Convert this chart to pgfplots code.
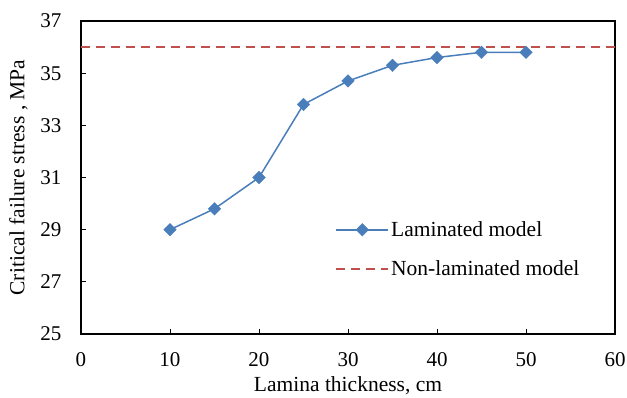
\documentclass[border=0pt]{standalone}
\usepackage{pgfplots}
\pgfplotsset{compat=1.18}
\usepackage{fontspec}
\setmainfont{Liberation Serif}
\definecolor{exblue}{RGB}{74,126,187}
\definecolor{exred}{RGB}{192,80,77}
\begin{document}
\begin{tikzpicture}
\useasboundingbox (-81pt,-64pt) rectangle (546pt,334pt);
\begin{axis}[
  at={(0,0)}, anchor=south west,
  scale only axis, width=534pt, height=313pt,
  xmin=0, xmax=60, ymin=25, ymax=37,
  xtick={0,10,...,60}, ytick={25,27,...,37},
  tick pos=left, tick align=inside, major tick length=5pt,
  axis line style={line width=1.1pt},
  every tick/.style={black, line width=0.9pt},
  /pgf/number format/assume math mode=true,
  tick label style={font=\fontsize{21}{24}\selectfont},
  xticklabel style={yshift=-15pt},
  yticklabel style={xshift=-16pt},
  xlabel={Lamina thickness, cm},
  ylabel={Critical failure stress , MPa},
  label style={font=\fontsize{21.5}{24}\selectfont},
  xlabel style={yshift=-3pt},
  ylabel style={yshift=6pt},
  legend style={draw=none, fill=none, at={(0.476,0.27)}, anchor=west,
    font=\fontsize{21.5}{24}\selectfont, row sep=19pt, inner sep=0pt},
  legend cell align=left,
  legend image code/.code={\draw[mark repeat=2,mark phase=2,#1] plot coordinates {(0pt,0pt) (26pt,0pt) (52pt,0pt)};},
  clip=false,
]
\addplot[color=exblue, line width=1.5pt, mark=square*, mark size=4.5pt,
  mark options={rotate=45, solid, fill=exblue, draw=exblue, line width=0.2pt}]
  coordinates {(10,29) (15,29.8) (20,31) (25,33.8) (30,34.7) (35,35.3) (40,35.6) (45,35.8) (50,35.8)};
\addlegendentry{Laminated model}
\addplot[color=exred, line width=1.8pt, dash pattern=on 9pt off 6pt]
  coordinates {(0,36) (60,36)};
\addlegendentry{Non-laminated model}
\end{axis}
\end{tikzpicture}
\end{document}
